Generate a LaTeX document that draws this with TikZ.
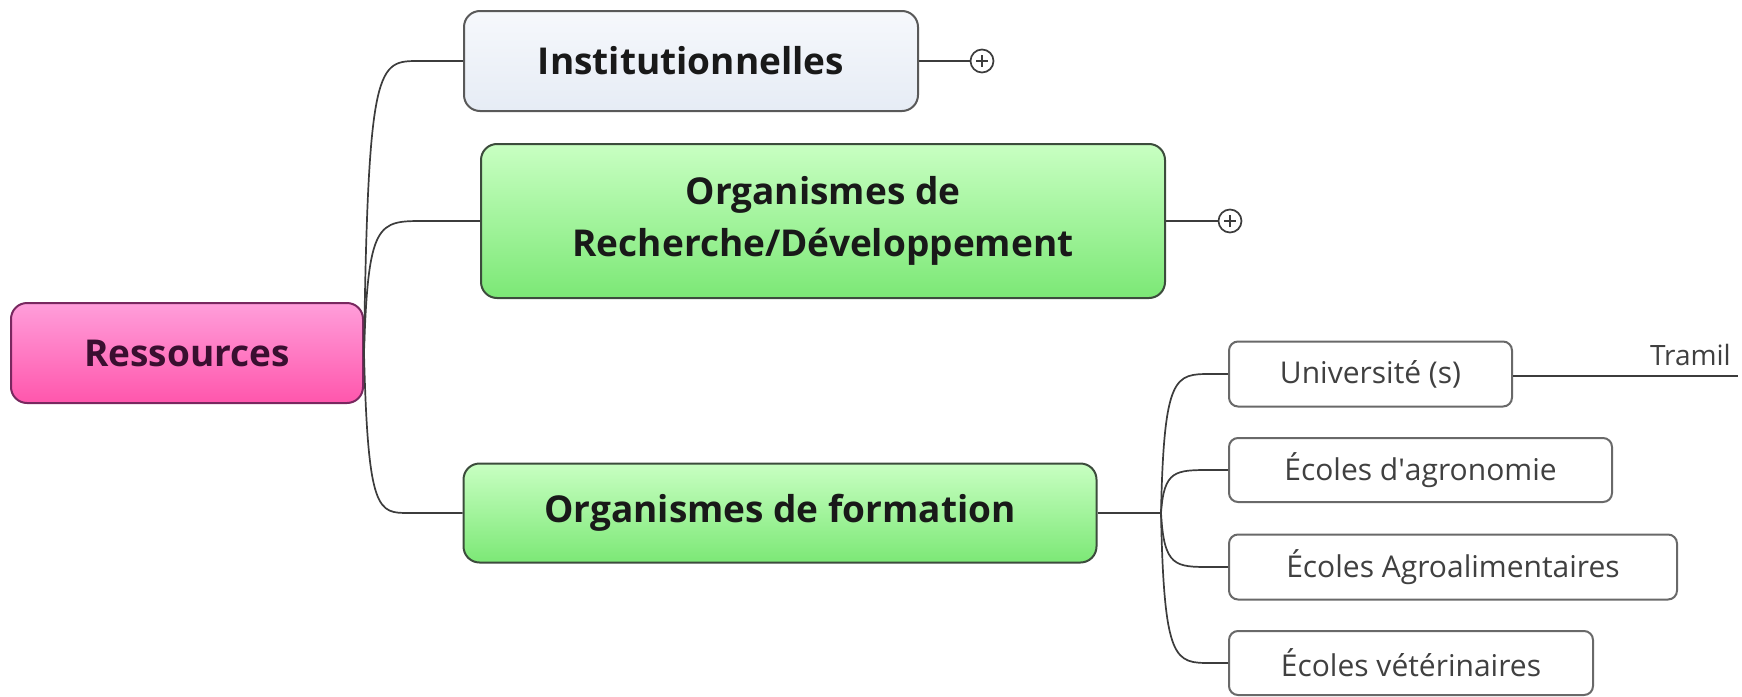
\documentclass[tikz,border=0pt]{standalone}
\usepackage{fontspec}
\setmainfont{Open Sans}
\usetikzlibrary{calc}
\definecolor{pinktop}{RGB}{255,158,218}
\definecolor{pinkbot}{RGB}{255,86,172}
\definecolor{pinkborder}{RGB}{120,40,95}
\definecolor{pinktext}{RGB}{58,15,48}
\definecolor{greentop}{RGB}{200,255,194}
\definecolor{greenbot}{RGB}{124,232,118}
\definecolor{greenborder}{RGB}{60,76,60}
\definecolor{insttop}{RGB}{246,248,252}
\definecolor{instbot}{RGB}{230,236,245}
\definecolor{lineclr}{RGB}{60,60,60}
\definecolor{subborder}{RGB}{105,105,105}
\definecolor{subtext}{RGB}{64,64,64}
\begin{document}
\begin{tikzpicture}[x=1pt,y=-1pt,
  mainbox/.style={draw, line width=2pt, rounded corners=16pt, inner sep=0pt, align=center,
    font=\fontsize{37}{52}\selectfont\bfseries},
  rootbox/.style={mainbox, draw=pinkborder, top color=pinktop, bottom color=pinkbot, text=pinktext},
  greenbox/.style={mainbox, draw=greenborder, top color=greentop, bottom color=greenbot, text=black!90},
  instbox/.style={mainbox, draw=black!65, top color=insttop, bottom color=instbot, text=black!90},
  subbox/.style={draw=subborder, line width=2pt, rounded corners=9pt, fill=white, inner sep=0pt,
    minimum height=65pt, text=subtext, font=\fontsize{30}{36}\selectfont},
  conn/.style={draw=lineclr, line width=1.7pt},
  plusc/.style={circle, draw=lineclr, line width=1.7pt, fill=white, minimum size=23pt, inner sep=0pt}
]
\useasboundingbox (0,0) rectangle (1742,696);

% main nodes
\node[rootbox, minimum width=352pt, minimum height=100pt] (root) at (187,353) {Ressources};
\node[instbox, minimum width=454pt, minimum height=100pt] (inst) at (691,61) {Institutionnelles};
\node[greenbox, minimum width=684pt, minimum height=154pt] (rd) at (823,221) {Organismes de\\Recherche/Développement};
\node[greenbox, minimum width=633pt, minimum height=99pt] (form) at (780,513) {Organismes de formation};

% sub nodes
\node[subbox, minimum width=283pt] (univ) at (1370.5,374) {Université (s)};
\node[subbox, minimum width=383pt, minimum height=64pt] (agro) at (1420.5,470) {Écoles d\textquotesingle agronomie};
\node[subbox, minimum width=448pt] (agroal) at (1453,567) {Écoles Agroalimentaires};
\node[subbox, minimum width=364pt, minimum height=64pt] (vet) at (1411,663) {Écoles vétérinaires};

% collapse circles
\node[plusc] (c1) at (982,61) {};
\node[plusc] (c2) at (1230,221) {};
\draw[lineclr, line width=1.7pt] ($(c1.center)+(-6,0)$) -- ($(c1.center)+(6,0)$);
\draw[lineclr, line width=1.7pt] ($(c1.center)+(0,-6)$) -- ($(c1.center)+(0,6)$);
\draw[lineclr, line width=1.7pt] ($(c2.center)+(-6,0)$) -- ($(c2.center)+(6,0)$);
\draw[lineclr, line width=1.7pt] ($(c2.center)+(0,-6)$) -- ($(c2.center)+(0,6)$);

% connectors from root
\foreach \t/\d in {inst/55, rd/60, form/45}{
  \draw[conn] (root.east) .. controls ($(root.east |- \t.west)+(4,0)$) and ($(root.east |- \t.west)+(14,0)$) .. ($(root.east |- \t.west)+(\d,0)$) -- (\t.west);
}
\draw[conn] (inst.east) -- (c1.west);
\draw[conn] (rd.east) -- (c2.west);

% connectors from formation
\coordinate (br) at (1161,513);
\draw[conn] (form.east) -- (br);
\foreach \t in {univ, agro, agroal, vet}{
  \draw[conn] (br) .. controls ($(br |- \t.west)+(3,0)$) and ($(br |- \t.west)+(14,0)$) .. ($(br |- \t.west)+(50,0)$) -- (\t.west);
}

% Tramil
\coordinate (tramend) at (1738,376);
\draw[conn] (univ.east |- tramend) -- (tramend);
\node[anchor=base east, inner sep=0pt, text=subtext, font=\fontsize{28}{34}\selectfont] (tramil) at (1731,365) {Tramil};
\end{tikzpicture}
\end{document}
